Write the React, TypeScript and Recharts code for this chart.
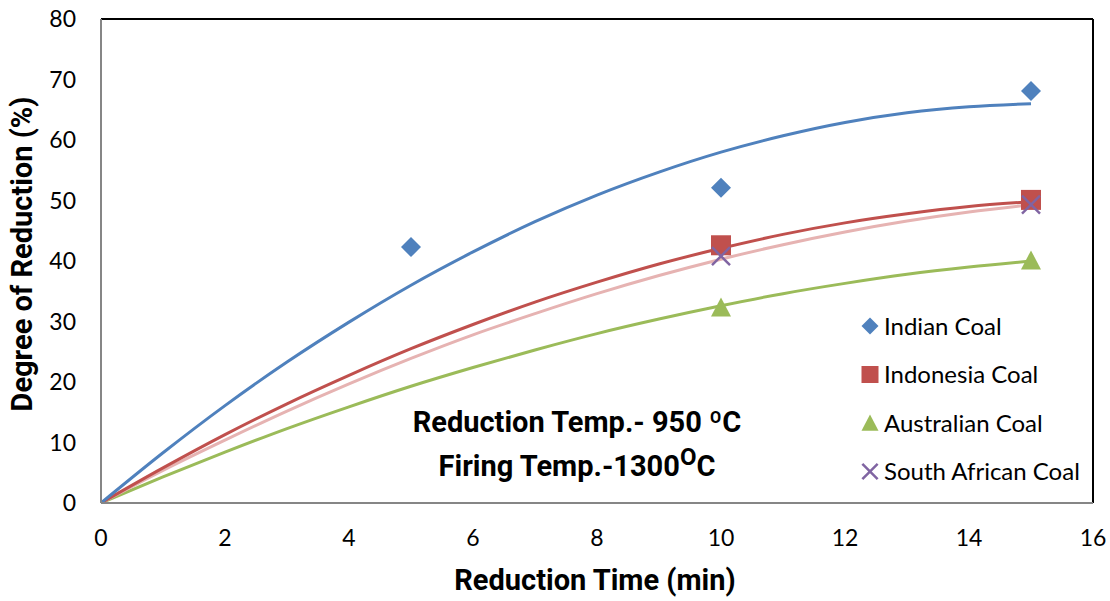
import React from "react";
import {
  ComposedChart,
  Line,
  Scatter,
  XAxis,
  YAxis,
  ReferenceLine,
  Customized,
} from "recharts";

// Measured points
const indianPts = [
  { x: 5, y: 42.3 },
  { x: 10, y: 52.1 },
  { x: 15, y: 68.1 },
];
const indonesiaPts = [
  { x: 10, y: 42.6 },
  { x: 15, y: 50.1 },
];
const australianPts = [
  { x: 10, y: 32.3 },
  { x: 15, y: 40.1 },
];
const southAfricanPts = [
  { x: 10, y: 40.8 },
  { x: 15, y: 49.3 },
];

// Trendlines
const trendX = [0, 1, 2, 3, 4, 5, 6, 7, 8, 9, 10, 11, 12, 13, 14, 15];
const indianTrend = [0, 8.3, 16.1, 23.3, 29.9, 36.0, 41.5, 46.5, 50.9, 54.7, 58.0, 60.7, 62.9, 64.5, 65.5, 66.0];
const indonesiaTrend = [0, 5.8, 11.3, 16.4, 21.1, 25.5, 29.5, 33.2, 36.5, 39.5, 42.1, 44.4, 46.3, 47.8, 49.0, 49.8];
const australianTrend = [0, 4.3, 8.4, 12.3, 15.9, 19.3, 22.4, 25.3, 28.0, 30.4, 32.6, 34.6, 36.3, 37.8, 39.0, 40.0];
const southAfricanTrend = [0, 5.4, 10.4, 15.2, 19.7, 23.9, 27.8, 31.3, 34.6, 37.6, 40.3, 42.7, 44.8, 46.6, 48.1, 49.3];

const xTicks = [0, 2, 4, 6, 8, 10, 12, 14, 16];
const yTicks = [0, 10, 20, 30, 40, 50, 60, 70, 80];

const seriesNames = ["Indian Coal", "Indonesia Coal", "Australian Coal", "South African Coal"];
const BLUE = "#4F81BD";
const RED = "#C0504D";
const GREEN = "#9BBB59";
const PURPLE = "#8064A2";
const PINK = "#E6B3B2";

const toXY = (ys: number[]) => trendX.map((x, i) => ({ x, y: ys[i] }));

const Diamond = (p: any) => {
  const { cx, cy } = p;
  const s = p.s ?? 10;
  return <polygon points={`${cx},${cy - s} ${cx + s},${cy} ${cx},${cy + s} ${cx - s},${cy}`} fill={BLUE} />;
};
const Square = (p: any) => {
  const { cx, cy } = p;
  const s = p.s ?? 10;
  return <rect x={cx - s} y={cy - s} width={2 * s} height={2 * s} fill={RED} />;
};
const Triangle = (p: any) => {
  const { cx, cy } = p;
  const s = p.s ?? 10;
  return <polygon points={`${cx},${cy - s} ${cx + s},${cy + 0.9 * s} ${cx - s},${cy + 0.9 * s}`} fill={GREEN} />;
};
const Cross = (p: any) => {
  const { cx, cy } = p;
  const s = (p.s ?? 10) * 0.9;
  return (
    <g stroke={PURPLE} strokeWidth={2.5}>
      <line x1={cx - s} y1={cy - s} x2={cx + s} y2={cy + s} />
      <line x1={cx - s} y1={cy + s} x2={cx + s} y2={cy - s} />
    </g>
  );
};

const markerFor = [Diamond, Square, Triangle, Cross];

const Overlay = () => (
  <g>
    <g fontFamily="Roboto, sans-serif" fontWeight="bold" fill="#000">
      <text x={595} y={590} textAnchor="middle" fontSize={29}>
        Reduction Time (min)
      </text>
      <text x={32} y={254} textAnchor="middle" fontSize={29} transform="rotate(-90 32 254)">
        Degree of Reduction (%)
      </text>
      <text x={577} y={432} textAnchor="middle" fontSize={29}>
        Reduction Temp.- 950 ºC
      </text>
      <text x={577} y={476} textAnchor="middle" fontSize={29}>
        Firing Temp.-1300
        <tspan fontSize={24} dy={-11}>O</tspan>
        <tspan dy={11}>C</tspan>
      </text>
    </g>
    {seriesNames.map((n, i) => {
      const cy = 326 + i * 48.5;
      const M = markerFor[i];
      return (
        <g key={n}>
          <M cx={870} cy={cy} s={8.5} />
          <text x={884} y={cy} dy="0.36em" fontFamily="Lato, sans-serif" fontSize={24} fill="#000">
            {n}
          </text>
        </g>
      );
    })}
  </g>
);

export default function App() {
  return (
    <div style={{ position: "absolute", left: 0, top: 0, background: "#fff" }}>
      <ComposedChart
        width={1110}
        height={601}
        margin={{ top: 19, right: 17, bottom: 0, left: 0 }}
      >
        <XAxis
          type="number"
          dataKey="x"
          domain={[0, 16]}
          ticks={xTicks}
          allowDataOverflow
          height={98}
          tickLine={false}
          tickSize={0}
          tickMargin={27}
          axisLine={{ stroke: "#868686", strokeWidth: 2 }}
          tick={{ fill: "#000", fontSize: 23, fontFamily: "Lato, sans-serif" }}
        />
        <YAxis
          type="number"
          dataKey="y"
          domain={[0, 80]}
          ticks={yTicks}
          allowDataOverflow
          width={101}
          tickLine={false}
          tickSize={0}
          tickMargin={25}
          axisLine={{ stroke: "#868686", strokeWidth: 2 }}
          tick={{ fill: "#000", fontSize: 23, fontFamily: "Lato, sans-serif" }}
        />
        <ReferenceLine y={80} stroke="#000" strokeWidth={2} />
        <ReferenceLine x={16} stroke="#000" strokeWidth={2} />
        <Line data={toXY(australianTrend)} dataKey="y" type="monotone" stroke={GREEN} strokeWidth={3} dot={false} isAnimationActive={false} legendType="none" />
        <Line data={toXY(southAfricanTrend)} dataKey="y" type="monotone" stroke={PINK} strokeWidth={3} dot={false} isAnimationActive={false} legendType="none" />
        <Line data={toXY(indonesiaTrend)} dataKey="y" type="monotone" stroke={RED} strokeWidth={3} dot={false} isAnimationActive={false} legendType="none" />
        <Line data={toXY(indianTrend)} dataKey="y" type="monotone" stroke={BLUE} strokeWidth={3} dot={false} isAnimationActive={false} legendType="none" />
        <Scatter name={seriesNames[0]} data={indianPts} shape={Diamond} isAnimationActive={false} />
        <Scatter name={seriesNames[1]} data={indonesiaPts} shape={Square} isAnimationActive={false} />
        <Scatter name={seriesNames[2]} data={australianPts} shape={Triangle} isAnimationActive={false} />
        <Scatter name={seriesNames[3]} data={southAfricanPts} shape={Cross} isAnimationActive={false} />
        <Customized component={Overlay} />
      </ComposedChart>
    </div>
  );
}
